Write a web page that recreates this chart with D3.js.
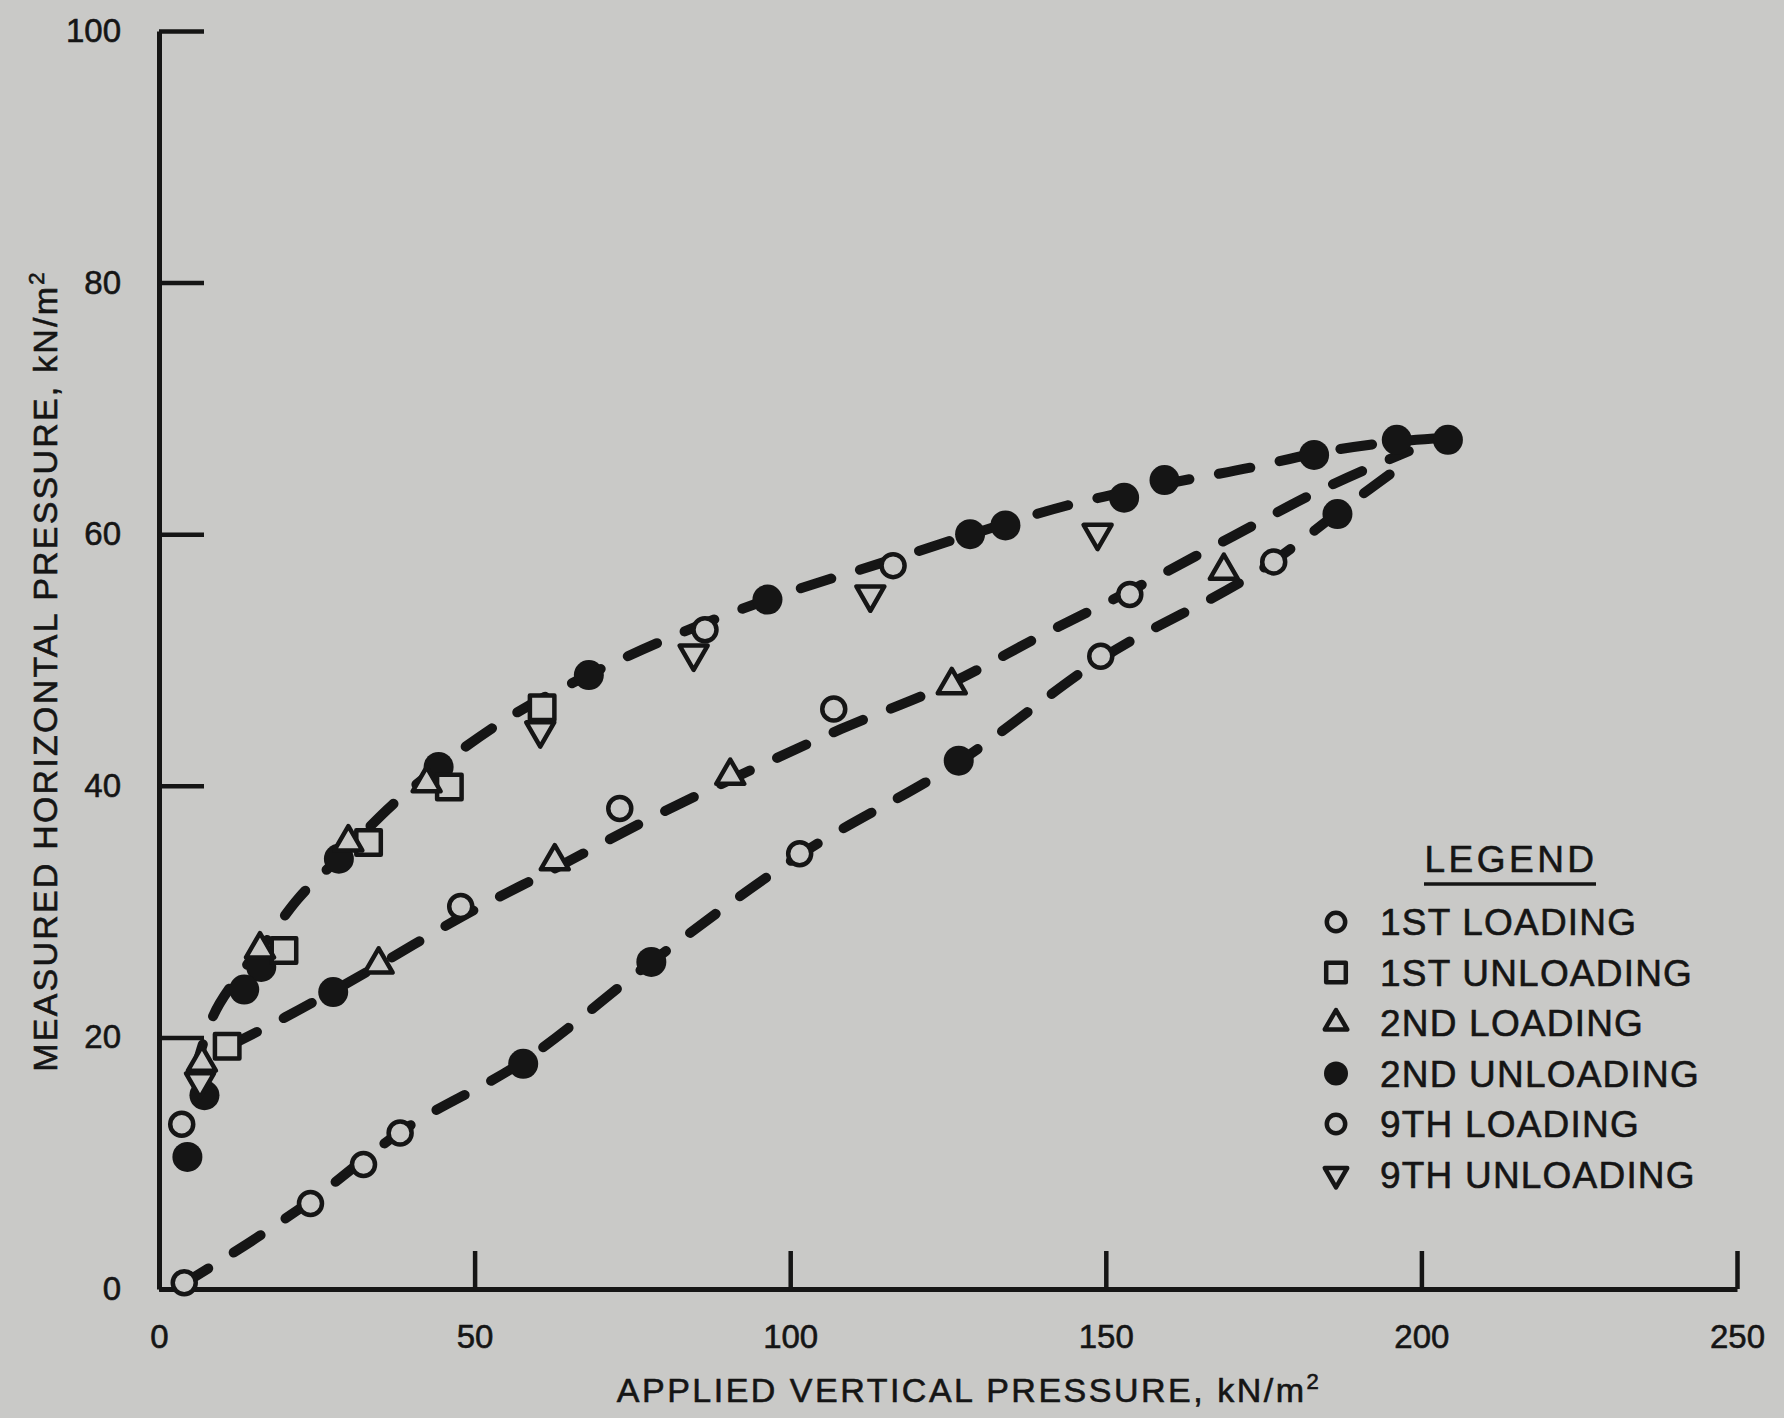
<!DOCTYPE html>
<html>
<head>
<meta charset="utf-8">
<script src="https://cdn.jsdelivr.net/npm/d3@7"></script>
<style>
    body { margin: 0; background: #c9c9c7; }
    svg { display: block; }
</style>
</head>
<body>
<div class="chart"></div>
<script>
let w = 1784, h = 1418;
let ink = '#151515', paper = '#c9c9c7';
let font = '"Liberation Sans", Arial, Helvetica, sans-serif';

/* ==== DATA (kN/m2) ==== */

let xTicks = [0, 50, 100, 150, 200, 250];
let yTicks = [0, 20, 40, 60, 80, 100];

let firstLoading = [[4, 0.5], [24, 6.8], [32.4, 9.9], [38.2, 12.4], [101.5, 34.6], [149.2, 50.3], [176.6, 57.8]];
let firstUnloading = [[10.8, 19.3], [19.8, 26.9], [33.2, 35.5], [46, 39.9], [60.7, 46.2]];
let secondLoading = [[6.8, 18], [16, 27], [30, 35.5], [42.4, 40.2], [34.8, 25.8], [62.7, 34], [90.5, 40.8], [125.6, 48], [168.7, 57.1]];
let secondUnloading = [[204.2, 67.5], [196.1, 67.5], [183, 66.3], [159.3, 64.3], [152.9, 62.9], [134.1, 60.7], [128.5, 60],
    [96.4, 54.8], [68.1, 48.8], [44.3, 41.5], [28.5, 34.2], [16.2, 25.6], [13.5, 23.8], [7.2, 15.4], [4.5, 10.5],
    [27.6, 23.6], [57.7, 17.9], [78, 26], [126.7, 42], [186.7, 61.6]];
let ninthLoading = [[3.6, 13.1], [47.8, 30.4], [73, 38.2], [106.9, 46.1], [153.8, 55.2], [86.5, 52.4], [116.3, 57.5]];
let ninthUnloading = [[6.5, 16.5], [60.4, 44.4], [84.7, 50.5], [112.7, 55.2], [148.7, 60.1]];

// dashed fitted curves
let upperCurve = [[5.5, 17], [8, 21], [12, 24.5], [16, 27], [22, 31], [29, 34.5], [37, 38.5], [44.3, 41.5], [55, 45.3],
    [68, 48.8], [82, 52], [96.4, 54.8], [115, 57.8], [130, 60.2], [144, 62.3], [159.5, 64], [173, 65.3], [184, 66.5],
    [195, 67.3], [204.4, 67.7]];
let middleCurve = [[11, 19.3], [20, 21.6], [28, 23.8], [35, 25.8], [48, 29.6], [63, 33.5], [77, 37.2], [91, 40.6],
    [108, 44.5], [125.6, 48.2], [140, 52], [155, 55.8], [170, 59.8], [184, 63.5], [198, 66.6]];
let lowerCurve = [[3.5, 0.3], [24, 7], [38, 12.4], [58, 18.2], [78, 26], [101.5, 34.5], [127, 42], [149, 50],
    [177, 58], [187, 61.8], [197, 65.5]];

let legendLabels = ['1ST LOADING', '1ST UNLOADING', '2ND LOADING', '2ND UNLOADING', '9TH LOADING', '9TH UNLOADING'];
let legendShapes = ['circle', 'square', 'up', 'dot', 'circle', 'down'];

/* ==== SETUP ==== */

let svg = d3.select('.chart').append('svg').attr('width', w).attr('height', h);
svg.append('rect').attr('width', w).attr('height', h).attr('fill', paper);

let xScale = d3.scaleLinear().domain([0, 250]).range([159, 1737]);
let yScale = d3.scaleLinear().domain([0, 100]).range([1289, 31]);

/* ==== AXES ==== */

let xAxis = d3.axisBottom(xScale)
    .tickValues(xTicks)
    .tickSizeInner(-38)
    .tickSizeOuter(0)
    .tickPadding(36);

let yAxis = d3.axisLeft(yScale)
    .tickValues(yTicks)
    .tickSizeInner(-45)
    .tickSizeOuter(0)
    .tickPadding(38);

let gx = svg.append('g')
    .attr('transform', 'translate(0,' + yScale(0) + ')')
    .call(xAxis);

let gy = svg.append('g')
    .attr('transform', 'translate(' + xScale(0) + ',0)')
    .call(yAxis);

[gx, gy].forEach(function (g) {
    g.attr('font-family', font).attr('font-size', 33);
    g.select('.domain').attr('stroke', ink).attr('stroke-width', 5);
    g.selectAll('.tick line').attr('stroke', ink).attr('stroke-width', 4.5);
    g.selectAll('.tick text').attr('fill', ink).attr('stroke', ink).attr('stroke-width', 0.6);
});

/* ==== AXIS TITLES ==== */

let xTitle = svg.append('text')
    .attr('x', 969)
    .attr('y', 1402)
    .attr('text-anchor', 'middle')
    .attr('font-family', font)
    .attr('font-size', 34)
    .attr('letter-spacing', 2.5)
    .attr('fill', ink)
    .attr('stroke', ink)
    .attr('stroke-width', 0.6)
    .text('APPLIED VERTICAL PRESSURE, kN/m');
xTitle.append('tspan').attr('dy', -13).attr('font-size', 22).text('2');

let yTitle = svg.append('text')
    .attr('transform', 'translate(57,671) rotate(-90)')
    .attr('text-anchor', 'middle')
    .attr('font-family', font)
    .attr('font-size', 34)
    .attr('letter-spacing', 2.2)
    .attr('fill', ink)
    .attr('stroke', ink)
    .attr('stroke-width', 0.6)
    .text('MEASURED HORIZONTAL PRESSURE, kN/m');
yTitle.append('tspan').attr('dy', -13).attr('font-size', 22).text('2');

/* ==== DASHED CURVES ==== */

let line = d3.line()
    .x(function (d) { return xScale(d[0]); })
    .y(function (d) { return yScale(d[1]); })
    .curve(d3.curveMonotoneX);

[upperCurve, middleCurve, lowerCurve].forEach(function (c) {
    svg.append('path')
        .datum(c)
        .attr('d', line)
        .attr('fill', 'none')
        .attr('stroke', ink)
        .attr('stroke-width', 10)
        .attr('stroke-linecap', 'round')
        .attr('stroke-dasharray', '32,30');
});

/* ==== MARKERS ==== */

function drawMarker(g, shape, x, y, k) {
    k = k || 1;
    if (shape === 'dot') {
        g.append('circle').attr('cx', x).attr('cy', y).attr('r', 15 * k).attr('fill', ink);
    } else if (shape === 'circle') {
        g.append('circle').attr('cx', x).attr('cy', y).attr('r', 11.5 * k)
            .attr('fill', paper).attr('stroke', ink).attr('stroke-width', 4.5);
    } else {
        let sym = shape === 'square' ? d3.symbolSquare : d3.symbolTriangle;
        let size = (shape === 'square' ? 600 : 340) * k * k;
        g.append('path')
            .attr('d', d3.symbol().type(sym).size(size)())
            .attr('transform', 'translate(' + x + ',' + y + ')' + (shape === 'down' ? ' rotate(180)' : ''))
            .attr('fill', paper).attr('stroke', ink).attr('stroke-width', 4.5)
            .attr('stroke-linejoin', 'round');
    }
}

let series = [
    {data: secondUnloading, shape: 'dot'},
    {data: firstLoading, shape: 'circle'},
    {data: ninthLoading, shape: 'circle'},
    {data: firstUnloading, shape: 'square'},
    {data: secondLoading, shape: 'up'},
    {data: ninthUnloading, shape: 'down'}
];

let marks = svg.append('g');
series.forEach(function (s) {
    s.data.forEach(function (d) {
        drawMarker(marks, s.shape, xScale(d[0]), yScale(d[1]));
    });
});

/* ==== LEGEND ==== */

let legend = svg.append('g')
    .attr('font-family', font)
    .attr('font-size', 37)
    .attr('fill', ink);

legend.append('text')
    .attr('x', 1511)
    .attr('y', 872)
    .attr('text-anchor', 'middle')
    .attr('letter-spacing', 3.5)
    .attr('stroke', ink)
    .attr('stroke-width', 0.6)
    .text('LEGEND');

legend.append('line')
    .attr('x1', 1424).attr('x2', 1596)
    .attr('y1', 884).attr('y2', 884)
    .attr('stroke', ink).attr('stroke-width', 3.5);

legendLabels.forEach(function (label, i) {
    let base = 935 + i * 50.5;
    drawMarker(legend, legendShapes[i], 1336, base - 13, 0.8);
    legend.append('text')
        .attr('x', 1380)
        .attr('y', base)
        .attr('letter-spacing', 1.2)
        .attr('stroke', ink)
        .attr('stroke-width', 0.6)
        .text(label);
});
</script>
</body>
</html>
